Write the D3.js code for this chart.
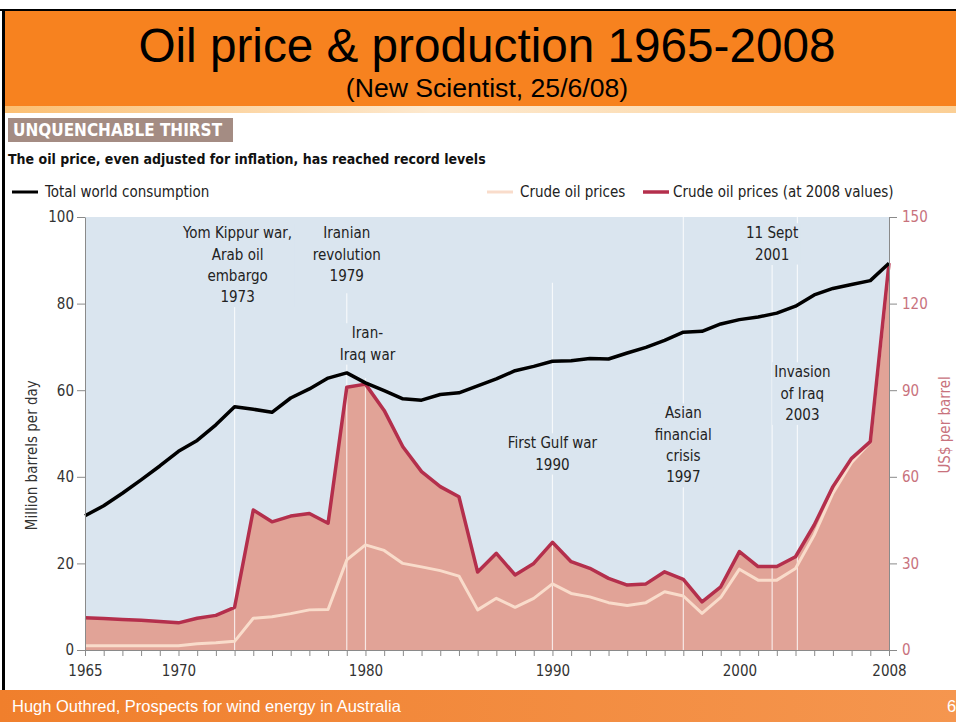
<!DOCTYPE html>
<html>
<head>
<meta charset="utf-8">
<script src="https://cdnjs.cloudflare.com/ajax/libs/d3/7.8.5/d3.min.js"></script>
<style>
  body { margin: 0; background: #fff; }
  svg { display: block; }
  .narrow { font-family: "Liberation Sans Narrow", "DejaVu Sans Condensed", "Roboto Condensed", sans-serif; }
  .arial { font-family: "Liberation Sans", Arial, sans-serif; }
</style>
</head>
<body>
<svg id="chart"></svg>
<script>
// data
var years = d3.range(1965, 2009);
var consumption = [31.0, 33.3, 36.2, 39.3, 42.5, 45.9, 48.4, 52.0, 56.2, 55.6,
    54.9, 58.2, 60.3, 62.8, 64.0, 61.7, 59.9, 58.0, 57.7, 59.0,
    59.4, 61.0, 62.6, 64.5, 65.5, 66.7, 66.8, 67.3, 67.2, 68.6,
    69.9, 71.5, 73.4, 73.6, 75.3, 76.3, 76.9, 77.8, 79.4, 82.0,
    83.5, 84.4, 85.3, 89.3];
var priceNominal = [1.5, 1.5, 1.5, 1.5, 1.5, 1.5, 2.2, 2.5, 3.0, 11.0,
    11.5, 12.6, 13.9, 14.0, 31.2, 36.4, 34.5, 30.0, 28.8, 27.5,
    25.6, 13.9, 17.9, 14.8, 17.9, 22.9, 19.6, 18.4, 16.4, 15.4,
    16.4, 20.2, 18.7, 12.7, 18.2, 28.0, 24.2, 24.2, 28.2, 39.8,
    54.3, 65.0, 72.0, 133.0];
var price2008 = [11.2, 10.9, 10.6, 10.3, 9.9, 9.4, 11.0, 12.0, 14.8, 48.5,
    44.4, 46.4, 47.3, 43.9, 91.0, 92.1, 83.0, 70.4, 61.8, 56.6,
    53.1, 27.0, 33.5, 26.0, 30.0, 37.3, 30.6, 28.3, 24.8, 22.5,
    22.9, 27.1, 24.5, 16.7, 21.9, 34.1, 28.9, 28.9, 32.3, 43.3,
    56.6, 66.4, 72.2, 134.0];
var yearLabels = [1965, 1970, 1980, 1990, 2000, 2008];
var leftTicks = [0, 20, 40, 60, 80, 100];
var rightTicks = [0, 30, 60, 90, 120, 150];
var eventYears = [1973, 1979, 1980, 1990, 1997, 2001.75, 2003.1];
var eventLabels = [
    ["Yom Kippur war,", "Arab oil", "embargo", "1973"],
    ["Iranian", "revolution", "1979"],
    ["Iran-", "Iraq war"],
    ["First Gulf war", "1990"],
    ["Asian", "financial", "crisis", "1997"],
    ["11 Sept", "2001"],
    ["Invasion", "of Iraq", "2003"]
];

var W = 956, H = 722;
var margin = { top: 217, right: 67, bottom: 72, left: 85 };
var width = W - margin.left - margin.right;
var height = H - margin.top - margin.bottom;

var colBlue = '#dae5ef',
    colFill = '#e1a397',
    colRed = '#b42f4c',
    colPink = '#f9dccb',
    colRightText = '#c8727d';

var root = d3.select('#chart')
    .attr('width', W)
    .attr('height', H);

var defs = root.append('defs');
var strip = defs.append('linearGradient').attr('id', 'strip');
strip.append('stop').attr('offset', '0%').attr('stop-color', '#fbbf72');
strip.append('stop').attr('offset', '45%').attr('stop-color', '#fde9cf');
strip.append('stop').attr('offset', '100%').attr('stop-color', '#fbcf95');
var foot = defs.append('linearGradient').attr('id', 'foot');
foot.append('stop').attr('offset', '0%').attr('stop-color', '#f07f2c');
foot.append('stop').attr('offset', '100%').attr('stop-color', '#f5964f');

// slide header
root.append('rect').attr('x', 4).attr('y', 10).attr('width', W - 4).attr('height', 96).attr('fill', '#f7821f');
root.append('rect').attr('x', 4).attr('y', 106).attr('width', W - 4).attr('height', 7).attr('fill', 'url(#strip)');
root.append('line').attr('x1', 0).attr('x2', W).attr('y1', 10).attr('y2', 10).attr('stroke', '#000').attr('stroke-width', 2);
root.append('line').attr('x1', 3.5).attr('x2', 3.5).attr('y1', 10).attr('y2', 690).attr('stroke', '#000').attr('stroke-width', 3);

root.append('text').attr('class', 'arial')
    .attr('x', 487).attr('y', 62)
    .attr('text-anchor', 'middle')
    .style('font-size', '47.7px')
    .text('Oil price & production 1965-2008');
root.append('text').attr('class', 'arial')
    .attr('x', 487).attr('y', 97)
    .attr('text-anchor', 'middle')
    .style('font-size', '26.6px')
    .text('(New Scientist, 25/6/08)');

// footer
root.append('rect').attr('x', 0).attr('y', 690).attr('width', W).attr('height', 32).attr('fill', 'url(#foot)');
root.append('text').attr('class', 'arial')
    .attr('x', 12).attr('y', 712)
    .attr('fill', '#fff')
    .style('font-size', '16.5px')
    .text('Hugh Outhred, Prospects for wind energy in Australia');
root.append('text').attr('class', 'arial')
    .attr('x', 947).attr('y', 712)
    .attr('fill', '#fff')
    .style('font-size', '16.5px')
    .text('6');

// chart heading
root.append('rect').attr('x', 8).attr('y', 118).attr('width', 225).attr('height', 24).attr('fill', '#a48c83');
root.append('text').attr('class', 'narrow')
    .attr('x', 13).attr('y', 136)
    .attr('fill', '#fff')
    .style('font-size', '17px').style('font-weight', 'bold')
    .text('UNQUENCHABLE THIRST');
root.append('text').attr('class', 'narrow')
    .attr('x', 8).attr('y', 164)
    .attr('fill', '#111')
    .style('font-size', '14px').style('font-weight', 'bold')
    .text('The oil price, even adjusted for inflation, has reached record levels');

// legend
var legend = [
    { x: 12, color: '#000', w: 3, label: 'Total world consumption' },
    { x: 487, color: colPink, w: 3, label: 'Crude oil prices' },
    { x: 643, color: colRed, w: 3.5, label: 'Crude oil prices (at 2008 values)' }
];
legend.forEach(function (d, i) {
    root.append('line')
        .attr('x1', d.x).attr('x2', d.x + 26)
        .attr('y1', 192).attr('y2', 192)
        .attr('stroke', d.color).attr('stroke-width', d.w);
    root.append('text').attr('class', 'narrow')
        .attr('x', d.x + (i == 2 ? 30 : 33)).attr('y', 197)
        .attr('fill', '#222')
        .style('font-size', '15px')
        .text(d.label);
});

var svg = root.append('g')
    .attr('transform', `translate(${margin.left}, ${margin.top})`);

var x = d3.scaleLinear().domain([1965, 2008]).range([0, width]);
var yL = d3.scaleLinear().domain([0, 100]).range([height, 0]);
var yR = d3.scaleLinear().domain([0, 150]).range([height, 0]);

svg.append('rect')
    .attr('width', width).attr('height', height)
    .attr('fill', colBlue);

var area = d3.area()
    .x((d, i) => x(years[i]))
    .y0(height)
    .y1(d => yR(d));
svg.append('path')
    .attr('d', area(price2008))
    .attr('fill', colFill);

// event markers (label anchor / line top in left-axis units)
var labelTop = [96.3, 96.3, 73.2, 47.8, 54.7, 96.3, 64.2];
var labelDx = [3, 0, 2, 0, 0, 0, 5];
var lineTop = [79.4, 82.4, 62.8, 84.8, 100, 88.9, 100];

eventYears.forEach(function (yr, i) {
    svg.append('line')
        .attr('x1', x(yr)).attr('x2', x(yr))
        .attr('y1', yL(lineTop[i])).attr('y2', height)
        .attr('stroke', '#fff')
        .attr('stroke-opacity', 0.75)
        .attr('stroke-width', 1.2);
});

var labels = svg.append('g').attr('class', 'narrow');
eventLabels.forEach(function (lines, i) {
    var g = labels.append('g');
    var box = g.append('rect').attr('fill', colBlue);
    lines.forEach(function (t, j) {
        g.append('text')
            .attr('x', x(eventYears[i]) + labelDx[i])
            .attr('y', yL(labelTop[i]) + j * 21.3)
            .attr('dy', '0.35em')
            .attr('text-anchor', 'middle')
            .attr('fill', '#222')
            .style('font-size', '15px')
            .text(t);
    });
    var bb = g.node().getBBox();
    box.attr('x', bb.x - 2).attr('y', bb.y - 1)
        .attr('width', bb.width + 4).attr('height', bb.height + 2);
});

var lineFn = function (scale) {
    return d3.line()
        .x((d, i) => x(years[i]))
        .y(d => scale(d));
};

svg.append('path')
    .attr('d', lineFn(yR)(priceNominal))
    .attr('fill', 'none')
    .attr('stroke', colPink)
    .attr('stroke-width', 3)
    .attr('stroke-linejoin', 'round');

svg.append('path')
    .attr('d', lineFn(yR)(price2008))
    .attr('fill', 'none')
    .attr('stroke', colRed)
    .attr('stroke-width', 3.5)
    .attr('stroke-linejoin', 'round');

svg.append('path')
    .attr('d', lineFn(yL)(consumption))
    .attr('fill', 'none')
    .attr('stroke', '#000')
    .attr('stroke-width', 3.5)
    .attr('stroke-linejoin', 'round');

// axes
var axL = svg.append('g')
    .attr('class', 'narrow')
    .call(d3.axisLeft(yL).tickValues(leftTicks).tickSize(8).tickSizeOuter(0).tickPadding(3));
var axR = svg.append('g')
    .attr('class', 'narrow')
    .attr('transform', `translate(${width}, 0)`)
    .call(d3.axisRight(yR).tickValues(rightTicks).tickSize(8).tickSizeOuter(0).tickPadding(5));
var axB = svg.append('g')
    .attr('class', 'narrow')
    .attr('transform', `translate(0, ${height})`)
    .call(d3.axisBottom(x).tickValues(years).tickSize(6).tickSizeOuter(0).tickPadding(9)
        .tickFormat(d => yearLabels.indexOf(d) >= 0 ? d : ''));

[axL, axR, axB].forEach(function (a) {
    a.attr('font-family', null).attr('font-size', null);
    a.selectAll('.domain').attr('stroke', '#8a8a8a');
    a.selectAll('.tick line').attr('stroke', '#8a8a8a');
    a.selectAll('text').style('font-size', '15px').attr('fill', '#333');
});
axR.selectAll('text').attr('fill', colRightText);

svg.append('text')
    .attr('class', 'narrow')
    .attr('transform', 'rotate(-90)')
    .attr('x', -yL(45))
    .attr('y', 32 - margin.left)
    .attr('dy', '0.35em')
    .style('text-anchor', 'middle')
    .style('font-size', '15px')
    .attr('fill', '#333')
    .text('Million barrels per day');

svg.append('text')
    .attr('class', 'narrow')
    .attr('transform', 'rotate(-90)')
    .attr('x', -yR(78))
    .attr('y', width + 56)
    .attr('dy', '0.35em')
    .style('text-anchor', 'middle')
    .style('font-size', '15px')
    .attr('fill', colRightText)
    .text('US$ per barrel');
</script>
</body>
</html>
